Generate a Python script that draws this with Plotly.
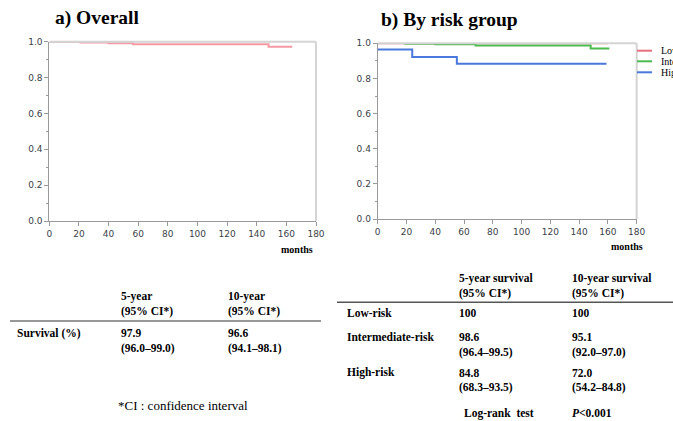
import plotly.graph_objects as go

W, H = 673, 421

# ---- data ----
overall_t = [0, 21, 40, 56.5, 148, 164]
overall_s = [1.0, 0.995, 0.992, 0.986, 0.972, 0.972]

group_names = ["Low-risk", "Intermediate-risk", "High-risk"]
group_colors = ["#e8707e", "#4cba4c", "#4a78dc"]
group_t = [
    [0, 160],
    [18.5, 40, 68, 148, 161],
    [0, 24, 55, 159],
]
group_s = [
    [1.0, 1.0],
    [0.997, 0.994, 0.988, 0.971, 0.971],
    [0.965, 0.922, 0.884, 0.884],
]

x_ticks = [0, 20, 40, 60, 80, 100, 120, 140, 160, 180]
y_ticks = [0.0, 0.2, 0.4, 0.6, 0.8, 1.0]

tblA_head = [["5-year", "(95% CI*)"], ["10-year", "(95% CI*)"]]
tblA_row = "Survival (%)"
tblA_vals = [["97.9", "(96.0–99.0)"], ["96.6", "(94.1–98.1)"]]

tblB_head = [["5-year survival", "(95% CI*)"], ["10-year survival", "(95% CI*)"]]
tblB_rows = ["Low-risk", "Intermediate-risk", "High-risk"]
tblB_5y = [["100"], ["98.6", "(96.4–99.5)"], ["84.8", "(68.3–93.5)"]]
tblB_10y = [["100"], ["95.1", "(92.0–97.0)"], ["72.0", "(54.2–84.8)"]]


def px(x):
    return x / W


def py(y):
    return 1 - y / H


fig = go.Figure()

fig.add_trace(go.Scatter(x=overall_t, y=overall_s, mode="lines", line_shape="hv",
                         line=dict(color="#f59aa5", width=2), xaxis="x", yaxis="y",
                         showlegend=False))
for name, col, t, s in zip(group_names, group_colors, group_t, group_s):
    fig.add_trace(go.Scatter(x=t, y=s, mode="lines", line_shape="hv", name=name,
                             line=dict(color=col, width=2), xaxis="x2", yaxis="y2",
                             showlegend=False))

tickfont = dict(family="DejaVu Sans, Noto Sans", size=9, color="#3a3f48")
ax_common = dict(showgrid=False, zeroline=False, showline=True, linecolor="#9a9a9a",
                 linewidth=1, ticks="outside", ticklen=4, tickcolor="#9a9a9a",
                 tickfont=tickfont, fixedrange=True, automargin=False)
minor_y = dict(dtick=0.1, ticks="outside", ticklen=2, tickcolor="#9a9a9a")

fig.update_layout(
    width=W, height=H, margin=dict(l=0, r=0, t=0, b=0, pad=0, autoexpand=False),
    paper_bgcolor="white", plot_bgcolor="white", showlegend=False,
    xaxis=dict(domain=[px(49.3), px(316)], range=[0, 180], tickvals=x_ticks,
               anchor="y", **ax_common),
    yaxis=dict(domain=[py(221), py(41.7)], range=[0, 1.0], tickvals=y_ticks,
               tickformat=".1f", anchor="x", minor=minor_y, **ax_common),
    xaxis2=dict(domain=[px(377.7), px(636.7)], range=[0, 180], tickvals=x_ticks,
                anchor="y2", **ax_common),
    yaxis2=dict(domain=[py(219), py(43.3)], range=[0, 1.0], tickvals=y_ticks,
                tickformat=".1f", anchor="x2", minor=minor_y, **ax_common),
)

shapes = []
# top/right frame lines
for xr, yr in [("x", "y"), ("x2", "y2")]:
    shapes.append(dict(type="line", xref=f"{xr} domain", yref=f"{yr} domain",
                       x0=0, x1=1, y0=1, y1=1, line=dict(color="#d4d4d4", width=2), layer="above"))
    shapes.append(dict(type="line", xref=f"{xr} domain", yref=f"{yr} domain",
                       x0=1, x1=1, y0=0, y1=1, line=dict(color="#d4d4d4", width=2), layer="above"))

ann = []
serif = "Liberation Serif, Times New Roman, serif"
# titles
ann.append(dict(text="<b>a) Overall</b>", x=px(53), y=py(18), xanchor="left", yanchor="middle",
                font=dict(family=serif, size=19.5, color="black")))
ann.append(dict(text="<b>b) By risk group</b>", x=px(379), y=py(20), xanchor="left", yanchor="middle",
                font=dict(family=serif, size=19.5, color="black")))
# months labels
ann.append(dict(text="<b>months</b>", x=px(279), y=py(249), xanchor="left", yanchor="middle",
                font=dict(family=serif, size=10, color="black")))
ann.append(dict(text="<b>months</b>", x=px(609), y=py(246.5), xanchor="left", yanchor="middle",
                font=dict(family=serif, size=10, color="black")))

# legend (cut off by the page edge as in the reference)
leg_y = [50.7, 61.3, 72.3]
for name, col, yy in zip(group_names, group_colors, leg_y):
    shapes.append(dict(type="line", xref="paper", yref="paper", x0=px(637), x1=px(652),
                       y0=py(yy), y1=py(yy), line=dict(color=col, width=2)))
    ann.append(dict(text=name, x=px(660), y=py(yy), xanchor="left", yanchor="middle",
                    borderpad=0, font=dict(family=serif, size=10, color="black")))

bf = dict(family=serif, size=11.5, color="black")


def txt(s, x, y, bold=True, font=bf):
    t = f"<b>{s}</b>" if bold else s
    ann.append(dict(text=t, x=px(x - 2), y=py(y), xanchor="left", yanchor="middle", font=font))


# table A
colA = [121, 228]
for cx, head in zip(colA, tblA_head):
    txt(head[0], cx, 296.7)
    txt(head[1], cx, 311.7)
shapes.append(dict(type="line", xref="paper", yref="paper", x0=px(10), x1=px(321),
                   y0=py(321), y1=py(321), line=dict(color="#333", width=1.2)))
txt(tblA_row, 17, 333)
for cx, vals in zip(colA, tblA_vals):
    txt(vals[0], cx, 333)
    txt(vals[1], cx, 348)
txt("*CI : confidence interval", 118, 405, bold=False,
    font=dict(family=serif, size=13, color="black"))

# table B
colB = [459.3, 572.3]
for cx, head in zip(colB, tblB_head):
    txt(head[0], cx, 278.3)
    txt(head[1], cx, 293.3)
shapes.append(dict(type="line", xref="paper", yref="paper", x0=px(337), x1=px(673),
                   y0=py(302.3), y1=py(302.3), line=dict(color="#555", width=1.5)))
row_y = [313.3, 337.3, 372.7]
for name, yy, v5, v10 in zip(tblB_rows, row_y, tblB_5y, tblB_10y):
    txt(name, 346.7, yy)
    for cx, vals in zip(colB, [v5, v10]):
        for k, v in enumerate(vals):
            txt(v, cx, yy + 15 * k)
txt("Log-rank  test", 464.3, 413.3)
ann.append(dict(text="<b><i>P</i><0.001</b>", x=px(570.3), y=py(413.3), xanchor="left",
                yanchor="middle", font=bf))

for a in ann:
    a.setdefault("xref", "paper")
    a.setdefault("yref", "paper")
    a.setdefault("showarrow", False)
fig.update_layout(shapes=shapes, annotations=ann)

fig.write_html("out.html", config={"displayModeBar": False},
               post_script="document.body.style.margin='0px';document.body.style.overflow='hidden';")
